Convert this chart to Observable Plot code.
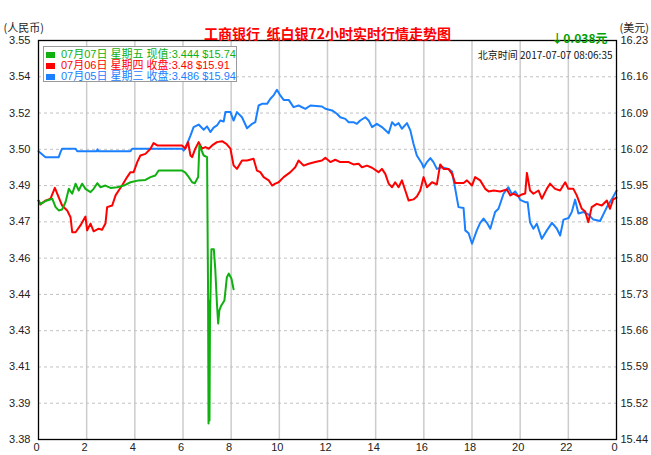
<!DOCTYPE html>
<html>
<head>
<meta charset="utf-8">
<script src="https://cdn.jsdelivr.net/npm/d3@7"></script>
<script src="https://cdn.jsdelivr.net/npm/@observablehq/plot@0.6"></script>
<style>
  html, body { margin: 0; padding: 0; background: #fff; }
  #wrap { position: relative; width: 651px; height: 455px; }
  #legend { position: absolute; left: 43px; top: 46px; width: 194px; height: 36px;
    border: 1px solid #9a9a9a; background: #fff; box-sizing: border-box;
    font: 11px "Liberation Sans", "Noto Sans CJK SC", sans-serif; }
  .row { position: absolute; left: 0; height: 11px; line-height: 11px; white-space: nowrap; }
  .sw { position: absolute; left: 2px; top: 3px; width: 9px; height: 6px; }
  .lt { position: absolute; left: 17px; top: 0; }
</style>
</head>
<body>
<div id="wrap"></div>
<script>
// ---- tick labels ----
const leftLabels  = ["3.38","3.39","3.41","3.43","3.44","3.46","3.47","3.49","3.50","3.52","3.54","3.55"];
const rightLabels = ["15.44","15.52","15.59","15.66","15.73","15.80","15.88","15.95","16.02","16.09","16.16","16.23"];
const xTicks = [0,2,4,6,8,10,12,14,16,18,20,22,24];

// ---- series: [hour, price CNY/g] ----
const jul05 = [[0,3.5028],[0.29,3.5003],[0.84,3.5003],[0.91,3.5023],[0.98,3.5039],[1.54,3.5039],[1.61,3.5028],[2.41,3.5028],[2.45,3.5036],[2.49,3.5028],[3.82,3.5028],[3.89,3.5039],[5.96,3.5039],[6.03,3.5031],[6.17,3.5060],[6.31,3.5095],[6.44,3.5131],[6.65,3.5142],[6.86,3.5120],[7.0,3.5134],[7.14,3.5110],[7.27,3.5129],[7.41,3.5138],[7.55,3.5159],[7.69,3.5155],[7.76,3.5195],[7.97,3.5195],[8.10,3.5159],[8.24,3.5195],[8.45,3.5173],[8.66,3.5126],[8.87,3.5145],[9.00,3.5152],[9.14,3.5223],[9.28,3.5230],[9.49,3.5230],[9.63,3.5252],[9.76,3.5266],[9.90,3.5290],[10.04,3.5266],[10.18,3.5247],[10.39,3.5247],[10.59,3.5216],[10.80,3.5223],[11.08,3.5209],[11.29,3.5223],[11.77,3.5219],[11.91,3.5209],[12.19,3.5202],[12.39,3.5188],[12.53,3.5173],[12.74,3.5166],[12.88,3.5152],[13.08,3.5152],[13.22,3.5145],[13.36,3.5159],[13.57,3.5173],[13.71,3.5159],[13.85,3.5131],[14.05,3.5145],[14.26,3.5131],[14.54,3.5105],[14.68,3.5152],[14.81,3.5138],[14.95,3.5148],[15.09,3.5124],[15.30,3.5148],[15.44,3.5117],[15.57,3.5060],[15.71,3.5010],[15.92,3.4976],[15.99,3.4958],[16.13,3.4982],[16.27,3.4999],[16.40,3.4982],[16.54,3.4953],[16.75,3.4960],[17.02,3.4953],[17.17,3.4942],[17.30,3.4870],[17.44,3.4790],[17.65,3.4786],[17.72,3.4691],[17.86,3.4679],[18.00,3.4634],[18.20,3.4691],[18.34,3.4723],[18.48,3.4741],[18.62,3.4723],[18.76,3.4698],[18.96,3.4769],[19.10,3.4783],[19.31,3.4847],[19.51,3.4875],[19.66,3.4844],[19.79,3.4857],[19.93,3.4836],[20.00,3.4821],[20.21,3.4811],[20.31,3.4811],[20.41,3.4725],[20.55,3.4698],[20.69,3.4719],[20.90,3.4655],[21.11,3.4691],[21.32,3.4723],[21.52,3.4699],[21.66,3.4669],[21.80,3.4737],[22.01,3.4744],[22.15,3.4771],[22.28,3.4822],[22.42,3.4763],[22.63,3.4769],[22.83,3.4759],[23.04,3.4737],[23.32,3.4731],[23.60,3.4790],[23.80,3.4823],[24,3.486]];

const jul06 = [[0,3.4818],[0.08,3.4801],[0.29,3.4818],[0.50,3.4826],[0.68,3.4872],[0.84,3.4832],[0.98,3.4797],[1.19,3.4776],[1.33,3.4747],[1.40,3.4683],[1.54,3.4683],[1.74,3.4712],[1.95,3.4750],[2.02,3.4691],[2.16,3.4720],[2.29,3.4687],[2.50,3.4698],[2.64,3.4694],[2.78,3.4720],[2.85,3.4790],[3.06,3.4797],[3.20,3.4840],[3.33,3.4861],[3.47,3.4882],[3.68,3.4918],[3.82,3.4939],[3.95,3.4939],[4.10,3.4982],[4.23,3.5010],[4.44,3.5017],[4.65,3.5039],[4.78,3.5063],[4.93,3.5053],[5.96,3.5053],[6.10,3.5039],[6.21,3.5067],[6.31,3.5010],[6.38,3.5003],[6.51,3.5039],[6.65,3.5067],[6.79,3.5039],[6.93,3.5046],[7.07,3.5039],[7.21,3.5053],[7.41,3.5067],[7.62,3.5071],[7.80,3.5060],[7.97,3.5039],[8.10,3.4968],[8.24,3.4953],[8.45,3.4989],[8.66,3.4989],[8.93,3.4996],[9.07,3.4946],[9.21,3.4939],[9.35,3.4918],[9.56,3.4904],[9.70,3.4882],[9.83,3.4890],[9.97,3.4896],[10.18,3.4918],[10.46,3.4939],[10.66,3.4960],[10.80,3.4989],[11.01,3.4967],[11.22,3.4975],[11.49,3.4982],[11.77,3.4989],[11.91,3.5000],[12.12,3.4982],[12.32,3.4992],[12.53,3.4982],[12.88,3.4982],[13.08,3.4972],[13.29,3.4975],[13.43,3.4960],[13.64,3.4967],[13.85,3.4958],[14.12,3.4939],[14.26,3.4953],[14.40,3.4932],[14.54,3.4890],[14.68,3.4875],[14.81,3.4896],[14.95,3.4875],[15.09,3.4904],[15.23,3.4861],[15.37,3.4818],[15.57,3.4823],[15.71,3.4835],[15.85,3.4861],[15.99,3.4918],[16.13,3.4875],[16.34,3.4896],[16.54,3.4887],[16.68,3.4972],[16.82,3.4953],[17.02,3.4953],[17.17,3.4932],[17.30,3.4893],[17.65,3.4893],[17.79,3.4904],[18.00,3.4882],[18.13,3.4918],[18.34,3.4904],[18.55,3.4868],[18.69,3.4857],[18.90,3.4861],[19.17,3.4857],[19.45,3.4865],[19.59,3.4840],[19.72,3.4848],[19.93,3.4836],[20.07,3.4844],[20.21,3.4848],[20.28,3.4936],[20.41,3.4861],[20.55,3.4847],[20.76,3.4861],[20.90,3.4826],[21.11,3.4869],[21.24,3.4890],[21.45,3.4868],[21.66,3.4861],[21.87,3.4896],[22.00,3.4868],[22.21,3.4868],[22.35,3.4840],[22.56,3.4783],[22.70,3.4771],[22.83,3.4726],[22.97,3.4790],[23.18,3.4804],[23.39,3.4797],[23.60,3.4818],[23.73,3.4783],[23.86,3.4823],[24,3.4831]];

const jul07 = [[0,3.4818],[0.08,3.4804],[0.29,3.4816],[0.57,3.4826],[0.71,3.4790],[0.84,3.4776],[0.98,3.4780],[1.12,3.4811],[1.26,3.4868],[1.40,3.4847],[1.54,3.4890],[1.67,3.4861],[1.81,3.4890],[1.95,3.4868],[2.16,3.4854],[2.29,3.4868],[2.44,3.4892],[2.57,3.4875],[2.78,3.4882],[2.99,3.4872],[3.27,3.4875],[3.54,3.4882],[3.82,3.4896],[4.16,3.4904],[4.44,3.4906],[4.65,3.4918],[4.85,3.4925],[4.99,3.4946],[5.96,3.4946],[6.10,3.4937],[6.24,3.4918],[6.38,3.4896],[6.49,3.4892],[6.63,3.4918],[6.68,3.5053],[6.79,3.5027],[6.86,3.5010],[7.00,3.5003],[7.04,3.4435],[7.06,3.3868],[7.08,3.4392],[7.10,3.3881],[7.12,3.4306],[7.18,3.4611],[7.28,3.4611],[7.34,3.4526],[7.41,3.4377],[7.46,3.4294],[7.51,3.4350],[7.59,3.4371],[7.72,3.4392],[7.82,3.4490],[7.90,3.4507],[8.01,3.4486],[8.10,3.444]];

// ---- texts ----
const titleText = "工商银行\u00a0\u00a0纸白银72小时实时行情走势图";
const leftUnit = "(人民币)";
const rightUnit = "(美元)";
const changeText = "↓0.038元";
const timeText = "北京时间 2017-07-07 08:06:35";
const legendLabels = ["07月07日 星期五 现值:3.444 $15.74", "07月06日 星期四 收盘:3.48 $15.91", "07月05日 星期三 收盘:3.486 $15.94"];
const colors = {jul07: "#10b010", jul06: "#ff0000", jul05: "#1a80ff"};
const legendColors = [colors.jul07, colors.jul06, colors.jul05];

const yMin = 3.38, yMax = 3.55;
const yStep = (yMax - yMin) / (leftLabels.length - 1);
const yTicks = leftLabels.map((_, i) => yMin + i * yStep);
const idx = d => Math.round((d - yMin) / yStep);
const cjk = "'Noto Sans CJK SC', sans-serif";

const chart = Plot.plot({
  width: 651, height: 455,
  marginTop: 40, marginBottom: 16, marginLeft: 38, marginRight: 35,
  style: {fontFamily: "'Liberation Sans', Arial, sans-serif", fontSize: "11px", background: "#fff", color: "#222"},
  x: {domain: [0, 24]},
  y: {domain: [yMin, yMax]},
  marks: [
    Plot.gridX(xTicks.slice(1, -1), {stroke: "#cccccc", strokeOpacity: 1, strokeWidth: 1.5}),
    Plot.gridY(yTicks.slice(1, -1), {stroke: "#c2c2c2", strokeOpacity: 1, strokeDasharray: "3,3"}),
    Plot.axisY(yTicks, {anchor: "left", tickSize: 0, tickPadding: 8, tickFormat: d => leftLabels[idx(d)], fontSize: 11, fill: "#222"}),
    Plot.axisY(yTicks, {anchor: "right", tickSize: 0, tickPadding: 4, tickFormat: d => rightLabels[idx(d)], fontSize: 11, fill: "#222"}),
    Plot.axisX(xTicks, {anchor: "bottom", tickSize: 0, tickPadding: 4, dx: -2, tickFormat: d => String(d % 24), fontSize: 11, fill: "#222"}),
    Plot.line(jul05, {x: d => d[0], y: d => d[1], stroke: colors.jul05, strokeWidth: 2}),
    Plot.line(jul06, {x: d => d[0], y: d => d[1], stroke: colors.jul06, strokeWidth: 2}),
    Plot.line(jul07, {x: d => d[0], y: d => d[1], stroke: colors.jul07, strokeWidth: 2}),
    Plot.frame({stroke: "#000", strokeWidth: 1.3}),
    Plot.text([titleText], {frameAnchor: "top", dy: -11, text: d => d, fill: "#ff0000", fontSize: 14, fontWeight: "bold", fontFamily: cjk}),
    Plot.text([leftUnit], {frameAnchor: "top-left", textAnchor: "start", dx: -35, dy: -16, text: d => d, fill: "#222", fontSize: 11, fontFamily: cjk}),
    Plot.text([rightUnit], {frameAnchor: "top-right", textAnchor: "start", dx: 3, dy: -16, text: d => d, fill: "#222", fontSize: 11, fontFamily: cjk}),
    Plot.text([changeText], {frameAnchor: "top-right", textAnchor: "end", dx: -9, dy: -6, text: d => d, fill: "#00a000", fontSize: 12, fontWeight: "bold", fontFamily: cjk}),
    Plot.text([timeText], {frameAnchor: "top-right", textAnchor: "end", dx: -4, dy: 11, text: d => d, fill: "#111", fontSize: 10, fontFamily: cjk})
  ]
});

const wrap = document.getElementById("wrap");
wrap.appendChild(chart);

const legend = document.createElement("div");
legend.id = "legend";
legendLabels.forEach((lab, i) => {
  const row = document.createElement("div");
  row.className = "row";
  row.style.top = (2 + i * 10.8) + "px";
  row.style.color = legendColors[i];
  const sw = document.createElement("span");
  sw.className = "sw";
  sw.style.background = legendColors[i];
  const t = document.createElement("span");
  t.className = "lt";
  t.textContent = lab;
  row.appendChild(sw); row.appendChild(t);
  legend.appendChild(row);
});
wrap.appendChild(legend);
</script>
</body>
</html>
